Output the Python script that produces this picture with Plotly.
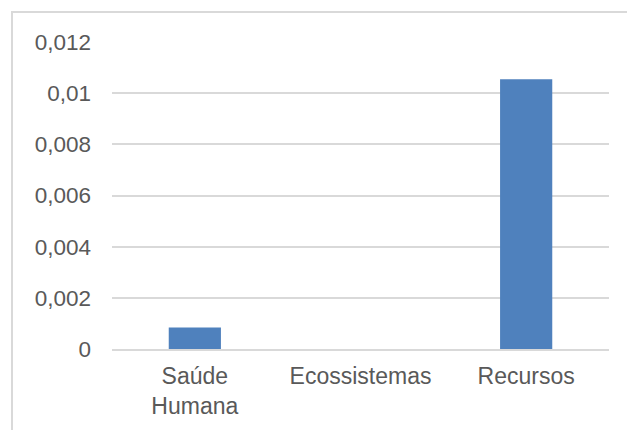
import plotly.graph_objects as go

categories = ["Saúde<br>Humana", "Ecossistemas", "Recursos"]
values = [0.00084, 0.0, 0.01054]
tick_vals = [0, 0.002, 0.004, 0.006, 0.008, 0.01, 0.012]
tick_text = ["0", "0,002", "0,004", "0,006", "0,008", "0,01", "0,012"]

fig = go.Figure(go.Bar(x=categories, y=values, marker=dict(color="#4F81BD", line=dict(width=0)), width=0.315))

yfont = dict(family="Liberation Sans, Arial, sans-serif", size=22.5, color="#595959")
xfont = dict(family="Liberation Sans, Arial, sans-serif", size=23, color="#595959")
fig.update_layout(
    width=627, height=430,
    margin=dict(l=112, r=18, t=42, b=80.5),
    paper_bgcolor="white", plot_bgcolor="white",
    font=yfont, showlegend=False,
    xaxis=dict(showgrid=False, showline=True, linecolor="#D9D9D9", linewidth=1.5,
               ticks="", tickfont=xfont, ticklabelstandoff=6, fixedrange=True),
    yaxis=dict(range=[0, 0.012], tickvals=tick_vals, ticktext=tick_text,
               showgrid=True, gridcolor="#D9D9D9", gridwidth=1.5, zeroline=False,
               showline=False, ticks="", tickfont=yfont, ticklabelstandoff=20),
    shapes=[dict(type="rect", xref="paper", yref="paper",
                 x0=(12 - 112) / 497, x1=2, y0=-1, y1=(349.5 - 12) / 307.5,
                 line=dict(color="#D9D9D9", width=2), fillcolor="rgba(0,0,0,0)", layer="below")],
)
fig.write_html("out.html")
